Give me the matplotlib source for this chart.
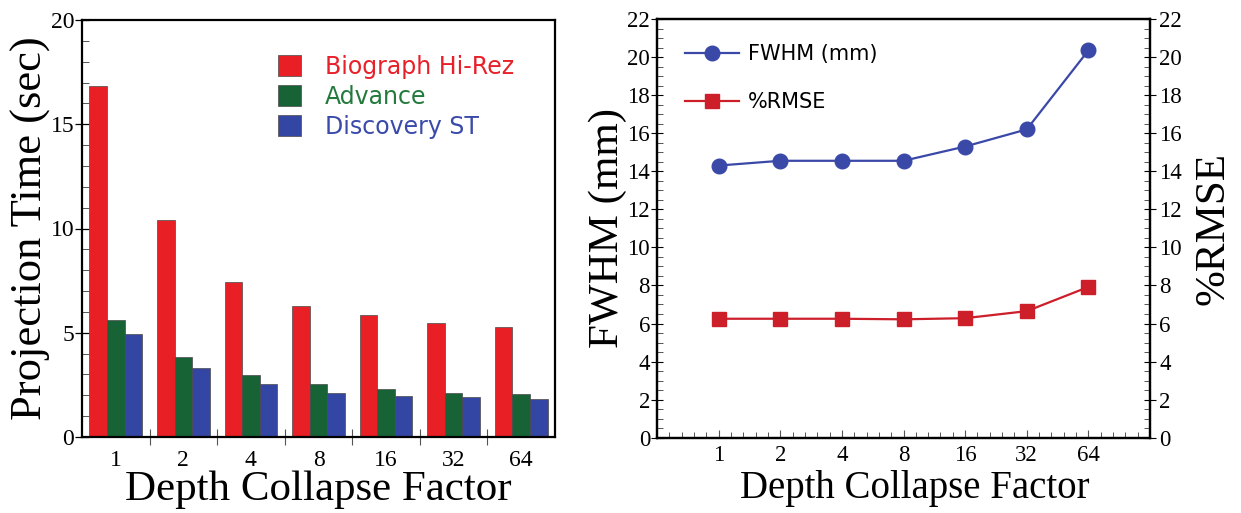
import numpy as np
import matplotlib
matplotlib.use("Agg")
import matplotlib.pyplot as plt
from matplotlib.ticker import FixedLocator, MultipleLocator, NullFormatter

# ---- data ----
factors = ["1", "2", "4", "8", "16", "32", "64"]
scanners = ["Biograph Hi-Rez", "Advance", "Discovery ST"]
biograph = [16.85, 10.4, 7.42, 6.26, 5.83, 5.46, 5.27]
advance = [5.59, 3.86, 2.95, 2.55, 2.31, 2.12, 2.04]
discovery = [4.95, 3.30, 2.55, 2.12, 1.95, 1.92, 1.84]
fwhm = [14.3, 14.55, 14.55, 14.55, 15.3, 16.2, 20.35]
rmse = [6.25, 6.25, 6.25, 6.22, 6.28, 6.65, 7.92]

bar_colors = ["#e81f25", "#176336", "#3446a3"]
text_colors = ["#e8202a", "#237a3c", "#3a4aaa"]
line_blue = "#3a48a8"
line_red = "#cc1f2a"

serif = ["Liberation Serif", "DejaVu Serif"]
sans = ["DejaVu Sans"]

W, H = 1241, 513
fig = plt.figure(figsize=(W / 100, H / 100), dpi=100)
fig.patch.set_facecolor("white")


def box(l, t, r, b):
    return [l / W, 1 - b / H, (r - l) / W, (b - t) / H]


# ---- left panel: grouped bars ----
ax1 = fig.add_axes(box(82, 20, 555, 437))
x = np.arange(len(factors))
bw = 0.26
for i, (vals, name) in enumerate(zip([biograph, advance, discovery], scanners)):
    ax1.bar(x + (i - 1) * bw, vals, width=bw, color=bar_colors[i],
            edgecolor="#4a4a4a", linewidth=0.5, label=name, zorder=2)

ax1.set_xlim(-0.5, len(factors) - 0.5)
ax1.set_ylim(0, 20)
ax1.set_xticks(x)
ax1.set_xticklabels(factors, fontfamily=serif, fontsize=17)
ax1.tick_params(axis="x", which="major", length=0, pad=9)
ax1.xaxis.set_minor_locator(FixedLocator(np.arange(-0.5, len(factors) - 0.4, 0.2)))
ax1.tick_params(axis="x", which="minor", direction="in", length=4, width=0.7, color="#555555")

# boundary ticks between groups
sec = ax1.secondary_xaxis("bottom")
sec.set_xticks(np.arange(0.5, len(factors) - 0.5, 1.0))
sec.xaxis.set_major_formatter(NullFormatter())
sec.tick_params(direction="inout", length=12, width=0.8, color="#555555")
sec.spines["bottom"].set_visible(False)

ax1.set_yticks([0, 5, 10, 15, 20])
ax1.set_yticklabels(["0", "5", "10", "15", "20"], fontfamily=serif, fontsize=17)
ax1.yaxis.set_minor_locator(MultipleLocator(1))
ax1.tick_params(axis="y", which="major", direction="inout", length=10, width=0.9, pad=0.5)
ax1.tick_params(axis="y", which="minor", direction="in", length=5, width=0.7, color="#555555")

for s in ax1.spines.values():
    s.set_linewidth(1.6)

ax1.set_ylabel("Projection Time (sec)", fontfamily=serif, fontsize=32, labelpad=0)
ax1.set_xlabel("Depth Collapse Factor", fontfamily=serif, fontsize=31, labelpad=0)

leg1 = ax1.legend(loc="upper left", bbox_to_anchor=(0.414, 0.917), frameon=False,
                  prop={"family": sans, "size": 17}, handlelength=1.0, handleheight=1.0,
                  handletextpad=1.0, labelspacing=0.26, borderpad=0, borderaxespad=0)
for txt, c in zip(leg1.get_texts(), text_colors):
    txt.set_color(c)

# ---- right panel: FWHM and %RMSE ----
ax2 = fig.add_axes(box(657, 19, 1150, 437.7))
xi = np.arange(len(factors))
ax2.plot(xi, fwhm, color=line_blue, lw=1.6, marker="o", ms=10.5, label="FWHM (mm)", zorder=3)
ax2.plot(xi, rmse, color=line_red, lw=1.6, marker="s", ms=9.5, label="%RMSE", zorder=3)
ax2.set_xlim(-1, len(factors))
ax2.set_ylim(0, 22)
ax2.set_xticks(xi)
ax2.set_xticklabels(factors, fontfamily=serif, fontsize=16.5)
ax2.xaxis.set_minor_locator(MultipleLocator(0.2))
ax2.tick_params(axis="x", which="major", direction="in", length=6, width=0.8, pad=5, color="#555555")
ax2.tick_params(axis="x", which="minor", direction="in", length=4, width=0.7, color="#555555")

yt = np.arange(0, 23, 2)
ax2.set_yticks(yt)
ax2.set_yticklabels([str(v) for v in yt], fontfamily=serif, fontsize=16.5)
ax2.yaxis.set_minor_locator(MultipleLocator(0.5))
ax2.tick_params(axis="y", which="major", direction="inout", length=9, width=0.8, pad=0.5)
ax2.tick_params(axis="y", which="minor", direction="in", length=4, width=0.7, color="#555555")
for s in ax2.spines.values():
    s.set_linewidth(1.6)

ax2.set_ylabel("FWHM (mm)", fontfamily=serif, fontsize=31, labelpad=0.5)
ax2.set_xlabel("Depth Collapse Factor", fontfamily=serif, fontsize=28, labelpad=3, x=0.523)

ax3 = ax2.twinx()
ax3.set_ylim(0, 22)
ax3.set_yticks(yt)
ax3.set_yticklabels([str(v) for v in yt], fontfamily=serif, fontsize=16.5)
ax3.yaxis.set_minor_locator(MultipleLocator(0.5))
ax3.tick_params(axis="y", which="major", direction="inout", length=9, width=0.8, pad=2)
ax3.tick_params(axis="y", which="minor", direction="in", length=4, width=0.7, color="#555555")
ax3.set_ylabel("%RMSE", fontfamily=serif, fontsize=31, labelpad=9)
for s in ax3.spines.values():
    s.set_linewidth(1.6)

ax2.legend(loc="upper left", bbox_to_anchor=(0.057, 0.94), frameon=False,
           prop={"family": sans, "size": 15}, handlelength=2.6, handletextpad=0.4,
           labelspacing=1.35, borderpad=0, borderaxespad=0)

fig.savefig("out.png", dpi=100, facecolor="white")
